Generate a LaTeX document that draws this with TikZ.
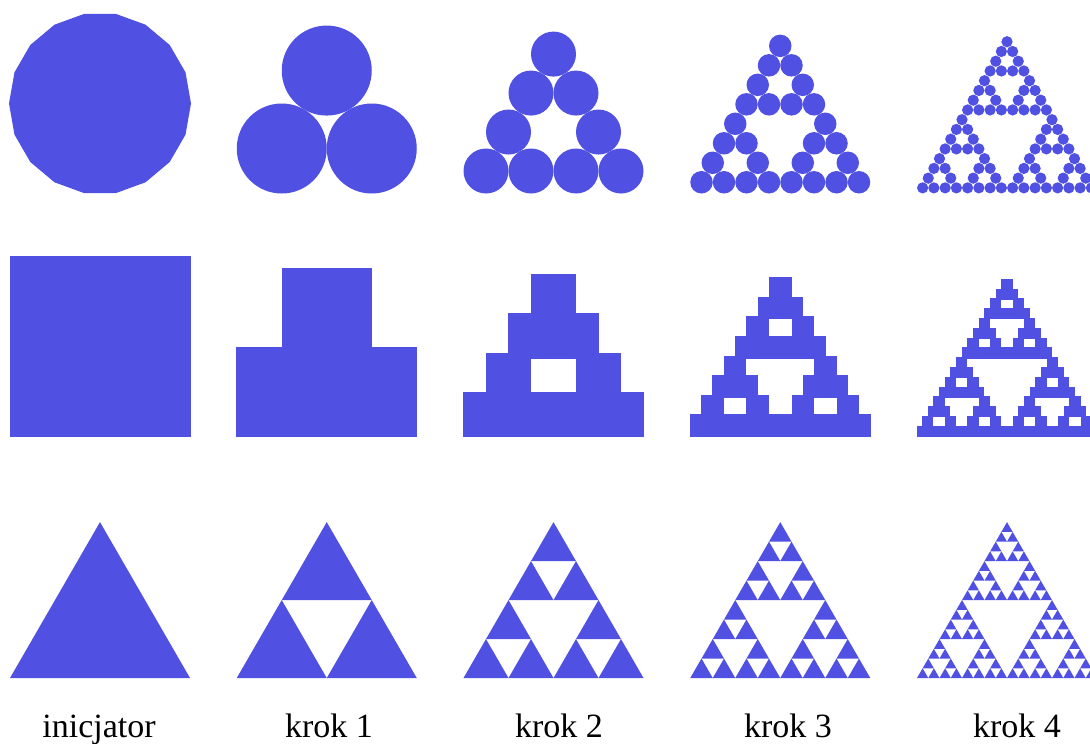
\documentclass[tikz,border=0pt]{standalone}
\usepackage{fontspec}
\setmainfont{Liberation Serif}
\usetikzlibrary{calc}
\definecolor{frac}{RGB}{80,80,226}
\newcommand\leafkind{T}
\newcommand\FracLeaf[3]{%
  \if\leafkind T\fill[frac] (#1,#2) -- ({#1+#3},#2) -- ({#1+#3/2},{#2-#3*0.8660254}) -- cycle;\fi
  \if\leafkind C\pgfmathsetmacro\FracR{#3/2}\fill[frac] ({#1+#3/2},{#2-#3/2}) circle[radius=\FracR pt];\fi
  \if\leafkind S\fill[frac] (#1,#2) rectangle ({#1+#3},{#2-#3});\fi
}
\newcommand\Sier[4]{%
  \ifnum#1=0\relax
    \FracLeaf{#2}{#3}{#4}%
  \else
    \begingroup
    \pgfmathsetmacro\SPx{#2}\pgfmathsetmacro\SPy{#3}\pgfmathsetmacro\SPs{#4/2}%
    \pgfmathtruncatemacro\SPl{#1-1}%
    \pgfmathsetmacro\SPxb{\SPx+\SPs}%
    \pgfmathsetmacro\SPxc{\SPx+\SPs/2}%
    \pgfmathsetmacro\SPyc{\SPy-\SPs*0.8660254}%
    \edef\SPdo{\noexpand\Sier{\SPl}{\SPx}{\SPy}{\SPs}\noexpand\Sier{\SPl}{\SPxb}{\SPy}{\SPs}\noexpand\Sier{\SPl}{\SPxc}{\SPyc}{\SPs}}%
    \SPdo
    \endgroup
  \fi}
\tikzset{lbl/.style={anchor=base, inner sep=0pt, font=\fontsize{34}{40}\selectfont}}
\begin{document}
\begin{tikzpicture}[x=1pt,y=-1pt]
\fill[white] (0,0) rectangle (1090,744);
\useasboundingbox (0,0) rectangle (1090,744);
% row 1: circles
\coordinate (c0) at (100,103.5);
\fill[frac] ($(c0)+(0:91pt)$) \foreach \i in {1,...,17} { -- ($(c0)+({20*\i}:91pt)$) } -- cycle;
\renewcommand\leafkind{C}
\Sier{1}{236.75}{193.5}{180}
\Sier{2}{463.5}{193.5}{180}
\Sier{3}{690.25}{193.5}{180}
\Sier{4}{917}{193.5}{180}
% row 2: squares
\fill[frac] (9.5,256) rectangle (190.5,437);
\renewcommand\leafkind{S}
\Sier{1}{236.25}{437}{181}
\Sier{2}{463}{437}{181}
\Sier{3}{689.75}{437}{181}
\Sier{4}{916.5}{437}{181}
% row 3: triangles
\renewcommand\leafkind{T}
\Sier{0}{10}{678}{180}
\Sier{1}{236.75}{678}{180}
\Sier{2}{463.5}{678}{180}
\Sier{3}{690.25}{678}{180}
\Sier{4}{917}{678}{180}
% labels
\node[lbl] (l0) at (99,737) {inicjator};
\node[lbl] (l1) at (329,737) {krok 1};
\node[lbl] (l2) at (559,737) {krok 2};
\node[lbl] (l3) at (788,737) {krok 3};
\node[lbl] (l4) at (1017,737) {krok 4};
\end{tikzpicture}
\end{document}
